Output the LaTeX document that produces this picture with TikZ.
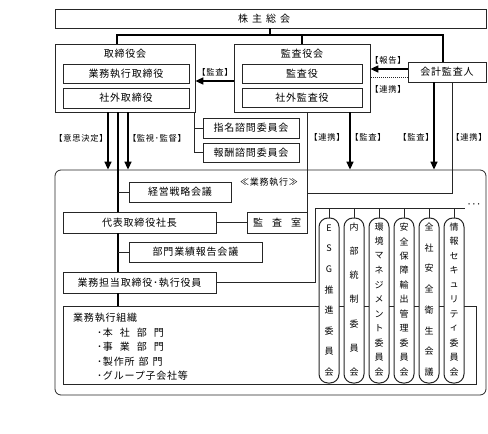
\documentclass[tikz,border=0pt]{standalone}
\usepackage{fontspec}
\setmainfont[LetterSpace=8]{Noto Sans CJK JP}
\usetikzlibrary{arrows.meta,calc}
\begin{document}
\begin{tikzpicture}[x=1pt,y=-1pt,
  box/.style={draw=black!85, line width=0.7pt, rectangle, inner sep=0pt, fill=white, font=\fontsize{10}{12}\selectfont},
  txt/.style={inner sep=0pt, font=\fontsize{10}{12}\selectfont},
  lbl/.style={inner sep=0pt, font=\fontsize{8.3}{10}\selectfont},
  vch/.style={inner sep=0pt, font=\fontsize{9}{10}\selectfont},
  thinl/.style={draw=black!85, line width=0.7pt},
  heavy/.style={draw=black, line width=1.5pt},
  arr/.style={draw=black, line width=1.5pt, -{Triangle[length=8pt,width=7pt]}},
  pill/.style={draw=black!85, line width=1pt, rounded corners=9pt, minimum width=20pt, minimum height=165pt, fill=white, inner sep=0pt}
]
\useasboundingbox (0,0) rectangle (488,434);

% big execution frame
\node[draw=black!85, line width=0.8pt, rounded corners=6pt, minimum width=431pt, minimum height=225pt, inner sep=0pt] (big) at (270.5,282.5) {};

% top boxes
\node[box, minimum width=431pt, minimum height=19pt] (shm) at (270.5,18.5) {};
\node[txt] (shmt) at (264,18.5) {株\hspace{4pt}主\hspace{4pt}総\hspace{4pt}会};

\node[box, minimum width=140pt, minimum height=68pt] (tb) at (125,78) {};
\node[txt] (tbt) at (125,54) {取締役会};
\node[box, minimum width=126pt, minimum height=19pt] (tb1) at (126,73.5) {業務執行取締役};
\node[box, minimum width=126pt, minimum height=20pt] (tb2) at (126,98) {社外取締役};

\node[box, minimum width=136pt, minimum height=68pt] (ka) at (302,78) {};
\node[txt] (kat) at (302,54) {監査役会};
\node[box, minimum width=120pt, minimum height=19pt] (ka1) at (302,73.5) {監査役};
\node[box, minimum width=120pt, minimum height=19pt] (ka2) at (302,97.5) {社外監査役};

\node[box, minimum width=78pt, minimum height=20pt] (kk) at (447,72) {会計監査人};

\node[box, minimum width=96pt, minimum height=20pt] (sm) at (251,128) {指名諮問委員会};
\node[box, minimum width=96pt, minimum height=19pt] (hs) at (251,152.5) {報酬諮問委員会};

% execution boxes
\node[box, minimum width=102pt, minimum height=20pt] (kse) at (180,192) {経営戦略会議};
\node[box, minimum width=153pt, minimum height=21pt] (ceo) at (139.5,222.5) {代表取締役社長};
\node[box, minimum width=60pt, minimum height=21pt] (kan) at (277,222.5) {監\hspace{9pt}査\hspace{9pt}室};
\node[box, minimum width=133pt, minimum height=20pt] (bum) at (195.5,252) {部門業績報告会議};
\node[box, minimum width=153pt, minimum height=21pt] (gyo) at (139.5,282.5) {業務担当取締役･執行役員};
\node[box, minimum width=413pt, minimum height=78pt] (org) at (269.5,345) {};
\node[txt, anchor=west] (orgt) at (73,318) {業務執行組織};
\node[txt, anchor=west] (o1) at (97,332.5) {･本\hspace{7pt}社\hspace{7pt}部\hspace{7pt}門};
\node[txt, anchor=west] (o2) at (97,347) {･事\hspace{7pt}業\hspace{7pt}部\hspace{7pt}門};
\node[txt, anchor=west] (o3) at (97,361.5) {･製作所\hspace{4pt}部\hspace{4pt}門};
\node[txt, anchor=west] (o4) at (97,376) {･グループ子会社等};

\node[inner sep=0pt, font=\fontsize{9}{10}\selectfont] (gs) at (269,182) {≪業務執行≫};

% committees
\node[pill] (p1) at (329,300.5) {};
\node[pill] (p2) at (354,300.5) {};
\node[pill] (p3) at (379,300.5) {};
\node[pill] (p4) at (404,300.5) {};
\node[pill] (p5) at (429,300.5) {};
\node[pill] (p6) at (454,300.5) {};
\foreach \c [count=\i from 0] in {E,S,G,推,進,委,員,会}
  \node[vch] (a\i) at (329,228+\i*144/7) {\c};
\foreach \c [count=\i from 0] in {内,部,統,制,委,員,会}
  \node[vch] (b\i) at (354,227+\i*145/6) {\c};
\foreach \c [count=\i from 0] in {環,境,マ,ネ,ジ,メ,ン,ト,委,員,会}
  \node[vch] (c\i) at (379,227+\i*145/10) {\c};
\foreach \c [count=\i from 0] in {安,全,保,障,輸,出,管,理,委,員,会}
  \node[vch] (d\i) at (404,227+\i*145/10) {\c};
\foreach \c [count=\i from 0] in {全,社,安,全,衛,生,会,議}
  \node[vch] (e\i) at (429,227+\i*145/7) {\c};
\foreach \c [count=\i from 0] in {情,報,セ,キ,ュ,リ,テ,ィ,委,員,会}
  \node[vch] (f\i) at (454,227+\i*145/10) {\c};

% helper coordinates
\coordinate (j1) at (270,35);
\coordinate (c117) at (117,35);
\coordinate (c443) at (443,35);
\coordinate (ya) at (0,81);
\coordinate (yb) at (0,69);
\coordinate (yc) at (0,77);
\coordinate (x108) at (108,0);
\coordinate (x118) at (118,0);
\coordinate (x128) at (128,0);
\coordinate (x194) at (194,0);
\coordinate (x350) at (350,0);
\coordinate (x434) at (434,0);
\coordinate (x452) at (452,0);
\coordinate (y193) at (0,193);
\coordinate (f1) at (315,208);
\coordinate (f2) at (465,208);

% top tree
\draw[heavy] (shm.south -| j1) -- (j1);
\draw[heavy] (tb.north -| c117) -- (c117) -- (c443) -- (kk.north -| c443);
\draw[heavy] (ka.north) -- (ka.north |- j1);

% arrows between boards
\draw[arr] (ka.west |- ya) -- (tb.east |- ya);
\draw[arr] (kk.west |- yb) -- (ka.east |- yb);
\draw[thinl, dash pattern=on 1pt off 1pt] (kk.west |- yc) -- (ka.east |- yc);

% from board of directors
\draw[arr] (tb.south -| x108) -- (big.north -| x108);
\draw[arr] (tb.south -| x128) -- (big.north -| x128);
\draw[heavy] (tb.south -| x118) -- (ceo.north -| x118);
\draw[heavy] (ceo.south -| x118) -- (gyo.north -| x118);
\draw[heavy] (gyo.south -| x118) -- (org.north -| x118);
\draw[thinl] (x118 |- kse.west) -- (kse.west);
\draw[thinl] (x118 |- bum.west) -- (bum.west);
\draw[thinl] (tb.south -| x194) |- (hs.west);
\draw[thinl] (x194 |- sm.west) -- (sm.west);

% from auditors
\draw[thinl] (ka.south -| kan.north east) -- (kan.north east);
\draw[thinl] (kan.north east |- y193) -| (kk.south -| x452);
\draw[arr] (ka.south -| x350) -- (big.north -| x350);
\draw[arr] (kk.south -| x434) -- (big.north -| x434);

% execution links
\draw[thinl] (ceo.east) -- (kan.west);
\draw[thinl] (gyo.east) -| (f1) -- (f2);
\foreach \p in {p1,p2,p3,p4,p5,p6}
  \draw[thinl] (\p.north |- f1) -- (\p.north);
\node[lbl] (dots) at (474,206) {･･･};

% labels
\node[lbl] (l1) at (81,138) {【意思決定】};
\node[lbl] (l2) at (157,138) {【監視･監督】};
\node[lbl] (l3) at (215,72) {【監査】};
\node[lbl] (l4) at (388,60) {【報告】};
\node[lbl] (l5) at (388,89) {【連携】};
\node[lbl] (l6) at (327,137) {【連携】};
\node[lbl] (l7) at (368,137) {【監査】};
\node[lbl] (l8) at (416,137) {【監査】};
\node[lbl] (l9) at (469,137) {【連携】};
\end{tikzpicture}
\end{document}
